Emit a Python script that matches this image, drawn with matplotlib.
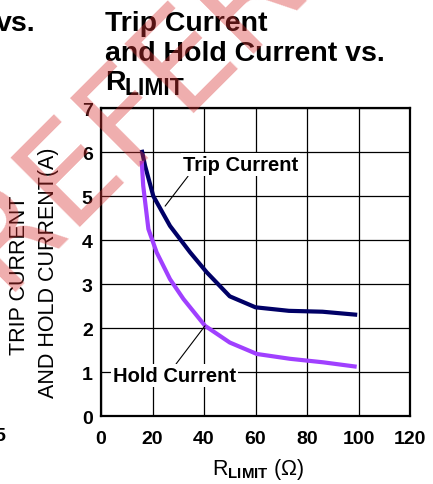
import matplotlib
matplotlib.use("Agg")
import matplotlib.pyplot as plt

plt.rcParams['font.family'] = ['Liberation Sans', 'DejaVu Sans']
plt.rcParams['mathtext.fontset'] = 'custom'
plt.rcParams['mathtext.rm'] = 'Liberation Sans'
plt.rcParams['mathtext.bf'] = 'Liberation Sans:bold'

# values
trip_r = [15.8, 17.1, 20.3, 26.8, 34.6, 41.0, 50.0, 60.0, 73.0, 86.0, 99.5]
trip_i = [6.05, 5.69, 5.00, 4.32, 3.72, 3.27, 2.72, 2.47, 2.39, 2.37, 2.30]

hold_r = [15.8, 16.4, 18.4, 21.6, 26.8, 32.0, 40.4, 50.0, 60.5, 73.4, 86.3, 99.3]
hold_i = [5.80, 5.23, 4.25, 3.72, 3.11, 2.66, 2.05, 1.67, 1.41, 1.30, 1.22, 1.12]

x_ticks = [0, 20, 40, 60, 80, 100, 120]
y_ticks = [0, 1, 2, 3, 4, 5, 6, 7]

W, H = 433, 485
fig = plt.figure(figsize=(W / 100, H / 100), dpi=100)
ax = fig.add_axes([101 / W, 1 - 417 / H, 309 / W, 308 / H])

ax.plot(trip_r, trip_i, color='#000066', lw=3, solid_capstyle='butt', zorder=3)
ax.plot(hold_r, hold_i, color='#A040FF', lw=3, solid_capstyle='butt', zorder=3)

ax.set_xlim(0, 120)
ax.set_ylim(0, 7)
ax.set_xticks(x_ticks)
ax.set_yticks(y_ticks)
ax.tick_params(length=0, labelsize=14)
ax.tick_params(axis='x', pad=10)
ax.tick_params(axis='y', pad=6)
for lab in ax.get_xticklabels() + ax.get_yticklabels():
    lab.set_fontweight('bold')
ax.grid(True, color='black', lw=0.9)
ax.set_axisbelow(True)
for sp in ax.spines.values():
    sp.set_linewidth(1.6)

# curve labels with leader lines
ax.annotate('Trip Current', xy=(24.9, 4.77), xytext=(31.7, 5.71),
            fontsize=14.5, fontweight='bold', ha='left', va='center',
            bbox=dict(boxstyle='square,pad=0.1', fc='white', ec='none'),
            arrowprops=dict(arrowstyle='-', color='black', lw=0.8,
                            shrinkA=0, shrinkB=0, relpos=(0.06, 0.0)),
            zorder=4)
ax.annotate('Hold Current', xy=(40.4, 2.05), xytext=(4.66, 0.92),
            fontsize=14.5, fontweight='bold', ha='left', va='center',
            bbox=dict(boxstyle='square,pad=0.1', fc='white', ec='none'),
            arrowprops=dict(arrowstyle='-', color='black', lw=0.8,
                            shrinkA=0, shrinkB=0, relpos=(0.5, 1.0)),
            zorder=4)

# axis labels
fig.text(20 / W, 1 - 275 / H, 'TRIP CURRENT', rotation=90, fontsize=15.5,
         ha='center', va='center')
fig.text(49 / W, 1 - 273 / H, 'AND HOLD CURRENT(A)', rotation=90, fontsize=15.5,
         ha='center', va='center')
fig.text(258 / W, 1 - 470 / H, r'R$_{\mathbf{LIMIT}}$ ($\Omega$)', fontsize=15.5,
         ha='center', va='center')

# title
fig.text(105 / W, 1 - 31 / H, 'Trip Current', fontsize=20.5, fontweight='bold',
         ha='left', va='baseline')
fig.text(105 / W, 1 - 61 / H, 'and Hold Current vs.', fontsize=20.5,
         fontweight='bold', ha='left', va='baseline')
fig.text(105 / W, 1 - 90 / H, 'R', fontsize=20.5, fontweight='bold',
         ha='left', va='baseline')
fig.text(125 / W, 1 - 95 / H, 'LIMIT', fontsize=16.5, fontweight='bold',
         ha='left', va='baseline')

# pieces of the neighbouring chart
fig.text(36 / W, 1 - 31 / H, 'vs.', fontsize=20.5, fontweight='bold',
         ha='right', va='baseline')
fig.text(5 / W, 1 - 437 / H, '5', fontsize=14, fontweight='bold',
         ha='right', va='center')

# watermark
fig.text(2 / W, 1 - 292 / H, 'REFERENCE', family='DejaVu Sans', fontsize=96,
         rotation=45, rotation_mode='anchor', ha='left', va='baseline',
         color=(0.85, 0.2, 0.2), alpha=0.4, zorder=10)

fig.savefig('out.png', dpi=100)
